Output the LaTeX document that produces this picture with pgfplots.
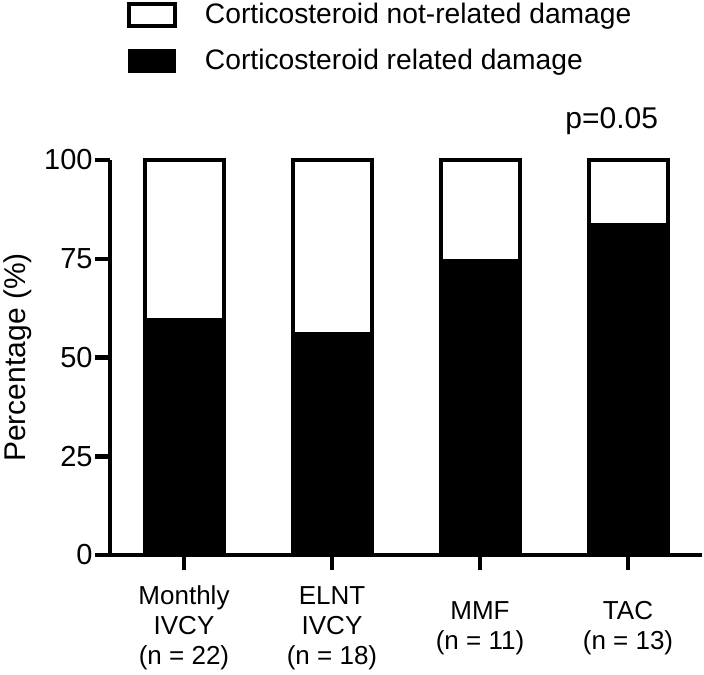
\documentclass[border=0pt]{standalone}
\usepackage{fontspec}
\setmainfont{Liberation Sans}
\usepackage{pgfplots}
\pgfplotsset{compat=1.18}
\begin{document}
\begin{tikzpicture}
\useasboundingbox (0,0) rectangle (352pt,337pt);
\begin{axis}[
  at={(55pt,59.5pt)}, anchor=south west,
  width=296pt, height=197.5pt, scale only axis,
  xmin=-0.5, xmax=3.5, ymin=0, ymax=100,
  clip=false,
  axis x line=bottom, axis y line=left,
  axis line style={-, line width=2.25pt},
  ybar stacked, bar width=39.5pt,
  xtick={0,1,2,3},
  xticklabels={{Monthly\\IVCY\\(n = 22)},{ELNT\\IVCY\\(n = 18)},{MMF\\(n = 11)},{TAC\\(n = 13)}},
  ytick={0,25,50,75,100},
  tick align=outside,
  major tick length=7.5pt,
  tick style={line width=2.25pt, black},
  /pgf/number format/assume math mode=true,
  yticklabel style={font=\fontsize{14.5}{16}\selectfont, inner xsep=1pt},
  xticklabel style={font=\fontsize{13}{15}\selectfont, align=center, anchor=center, yshift=-29pt},
  ylabel={Percentage (\%)},
  ylabel style={font=\fontsize{15}{18}\selectfont, at={(axis description cs:-0.155,0.5)}, anchor=center},
  legend style={at={(axis description cs:0.0287,1.4)}, anchor=north west, draw=none, fill=none,
    inner sep=0pt, outer sep=0pt, row sep=10.5pt, column sep=14pt,
    font=\fontsize{14.1}{17}\selectfont, nodes={inner sep=0pt}},
  legend cell align=left,
]
\addlegendimage{legend image code/.code={\filldraw[fill=white, draw=black, line width=2pt] (1pt,-5.5pt) rectangle (24pt,5.5pt);}}
\addlegendentry{Corticosteroid not-related damage}
\addlegendimage{legend image code/.code={\fill[black] (0.75pt,-5.75pt) rectangle (24.25pt,5.75pt);}}
\addlegendentry{Corticosteroid related damage}
\addplot[fill=black, draw=black, line width=2pt, forget plot]
  coordinates {(0,59.5) (1,56) (2,74.5) (3,83.5)};
\addplot[fill=white, draw=black, line width=2pt, forget plot]
  coordinates {(0,40.5) (1,44) (2,25.5) (3,16.5)};
\node[anchor=base, font=\fontsize{15}{18}\selectfont] at (axis cs:2.89,108.1) {p=0.05};
\end{axis}
\end{tikzpicture}
\end{document}
